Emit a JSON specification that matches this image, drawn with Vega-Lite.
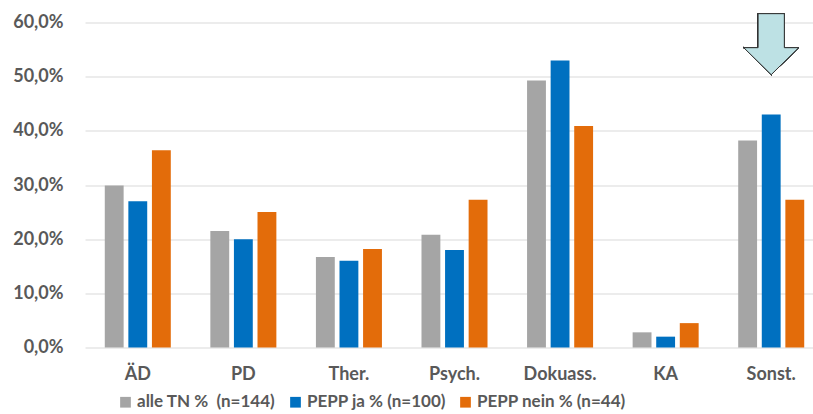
{
  "$schema": "https://vega.github.io/schema/vega-lite/v6.json",
  "width": 728,
  "height": 325,
  "autosize": {"type": "none"},
  "padding": {"left": 85, "top": 22.5, "right": 0, "bottom": 66.5},
  "background": "white",
  "config": {
    "view": {"stroke": null},
    "font": "Lato",
    "axis": {"labelFont": "Lato", "labelFontWeight": "bold", "labelColor": "#595959"}
  },
  "data": {
    "values": [
      {"kat": "ÄD", "gruppe": "alle TN %\u00a0\u00a0(n=144)", "anteil": 0.299},
      {"kat": "ÄD", "gruppe": "PEPP ja % (n=100)", "anteil": 0.27},
      {"kat": "ÄD", "gruppe": "PEPP nein % (n=44)", "anteil": 0.364},
      {"kat": "PD", "gruppe": "alle TN %\u00a0\u00a0(n=144)", "anteil": 0.215},
      {"kat": "PD", "gruppe": "PEPP ja % (n=100)", "anteil": 0.20},
      {"kat": "PD", "gruppe": "PEPP nein % (n=44)", "anteil": 0.25},
      {"kat": "Ther.", "gruppe": "alle TN %\u00a0\u00a0(n=144)", "anteil": 0.167},
      {"kat": "Ther.", "gruppe": "PEPP ja % (n=100)", "anteil": 0.16},
      {"kat": "Ther.", "gruppe": "PEPP nein % (n=44)", "anteil": 0.182},
      {"kat": "Psych.", "gruppe": "alle TN %\u00a0\u00a0(n=144)", "anteil": 0.208},
      {"kat": "Psych.", "gruppe": "PEPP ja % (n=100)", "anteil": 0.18},
      {"kat": "Psych.", "gruppe": "PEPP nein % (n=44)", "anteil": 0.273},
      {"kat": "Dokuass.", "gruppe": "alle TN %\u00a0\u00a0(n=144)", "anteil": 0.493},
      {"kat": "Dokuass.", "gruppe": "PEPP ja % (n=100)", "anteil": 0.53},
      {"kat": "Dokuass.", "gruppe": "PEPP nein % (n=44)", "anteil": 0.409},
      {"kat": "KA", "gruppe": "alle TN %\u00a0\u00a0(n=144)", "anteil": 0.028},
      {"kat": "KA", "gruppe": "PEPP ja % (n=100)", "anteil": 0.02},
      {"kat": "KA", "gruppe": "PEPP nein % (n=44)", "anteil": 0.045},
      {"kat": "Sonst.", "gruppe": "alle TN %\u00a0\u00a0(n=144)", "anteil": 0.382},
      {"kat": "Sonst.", "gruppe": "PEPP ja % (n=100)", "anteil": 0.43},
      {"kat": "Sonst.", "gruppe": "PEPP nein % (n=44)", "anteil": 0.273}
    ]
  },
  "layer": [
    {
      "mark": {"type": "bar"},
      "encoding": {
        "x": {
          "field": "kat",
          "type": "nominal",
          "sort": null,
          "scale": {"range": [0, 739], "paddingInner": 0.33, "paddingOuter": 0.165},
          "axis": {
            "title": null,
            "labelAngle": 0,
            "labelFontSize": 18,
            "labelPadding": 18,
            "domain": false,
            "ticks": false
          }
        },
        "xOffset": {
          "field": "gruppe",
          "type": "nominal",
          "sort": null,
          "scale": {"paddingInner": 0.2, "paddingOuter": 0.1}
        },
        "y": {
          "field": "anteil",
          "type": "quantitative",
          "scale": {"domain": [0, 0.6], "nice": false},
          "axis": {
            "title": null,
            "values": [0, 0.1, 0.2, 0.3, 0.4, 0.5, 0.6],
            "labelExpr": "replace(format(datum.value, '.1%'), '.', ',')",
            "labelFontSize": 18,
            "labelPadding": 22,
            "domain": false,
            "ticks": false,
            "gridColor": "#d9d9d9",
            "gridWidth": 1.2
          }
        },
        "color": {
          "field": "gruppe",
          "type": "nominal",
          "sort": null,
          "scale": {"range": ["#a5a5a5", "#0070c0", "#e36c0a"]},
          "legend": {
            "title": null,
            "orient": "none",
            "direction": "horizontal",
            "legendX": 32,
            "legendY": 371,
            "symbolType": "square",
            "symbolSize": 115,
            "symbolStrokeWidth": 0,
            "symbolOpacity": 1,
            "labelFont": "Lato",
            "labelFontSize": 17,
            "labelFontWeight": "bold",
            "labelColor": "#595959",
            "labelOffset": 3,
            "columnPadding": 11,
            "labelLimit": 300
          }
        }
      }
    },
    {
      "mark": {
        "type": "point",
        "shape": "M -0.43 -1 L 0.43 -1 L 0.43 0.115 L 0.9 0.115 L 0 1 L -0.9 0.115 L -0.43 0.115 Z",
        "size": 3721,
        "filled": true,
        "fill": "#bde1e4",
        "stroke": "#333333",
        "strokeWidth": 1,
        "opacity": 1
      },
      "encoding": {
        "x": {"datum": "Sonst."},
        "y": {"datum": 0.56}
      }
    }
  ]
}
